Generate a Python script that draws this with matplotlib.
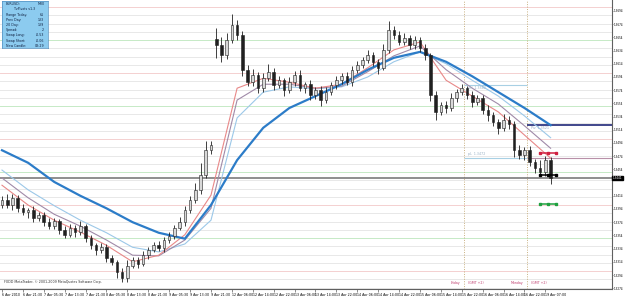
import numpy as np
import matplotlib.pyplot as plt

# EURUSD, 2h candles (price)
closes = [
    1.3408, 1.3400, 1.3411, 1.3395, 1.3389, 1.3392, 1.3380, 1.3385, 1.3374, 1.3368,
    1.3376, 1.3362, 1.3355, 1.3365, 1.3359, 1.3368, 1.3350, 1.3339, 1.3332, 1.3336,
    1.3320, 1.3314, 1.3298, 1.3289, 1.3308, 1.3317, 1.3311, 1.3324, 1.3332, 1.3339,
    1.3335, 1.3347, 1.3353, 1.3365, 1.3374, 1.3392, 1.3408, 1.3423, 1.3445, 1.3483,
    1.3491, 1.3642, 1.3627, 1.3650, 1.3673, 1.3658, 1.3605, 1.3586, 1.3597, 1.3577,
    1.3592, 1.3602, 1.3582, 1.3589, 1.3574, 1.3586, 1.3597, 1.3577, 1.3583, 1.3567,
    1.3574, 1.3559, 1.3571, 1.3582, 1.3589, 1.3595, 1.3586, 1.3605, 1.3612, 1.3620,
    1.3627, 1.3617, 1.3608, 1.3635, 1.3665, 1.3658, 1.3647, 1.3653, 1.3642, 1.3650,
    1.3638, 1.3627, 1.3567, 1.3541, 1.3552, 1.3547, 1.3562, 1.3571, 1.3577, 1.3567,
    1.3556, 1.3562, 1.3544, 1.3536, 1.3526, 1.3517, 1.3529, 1.3523, 1.3483, 1.3476,
    1.3483, 1.3465, 1.3456, 1.3450, 1.3468, 1.3441]
first_open = 1.3400
monday_open = 1.3652   # 12 Apr gap
# wick lengths in pips
wick_up = [
    6, 9, 5, 4, 7, 3, 6, 5, 4, 6,
    5, 3, 6, 7, 4, 8, 3, 5, 4, 6,
    5, 4, 3, 6, 9, 4, 5, 6, 4, 5,
    7, 4, 6, 5, 8, 6, 5, 10, 18, 14,
    6, 16, 12, 10, 16, 8, 6, 7, 9, 5,
    8, 11, 5, 6, 4, 8, 6, 7, 4, 6,
    5, 6, 8, 4, 6, 5, 7, 5, 6, 5,
    8, 5, 4, 9, 14, 6, 5, 7, 4, 6,
    5, 6, 3, 5, 4, 6, 8, 5, 7, 4,
    6, 5, 4, 7, 5, 4, 9, 6, 5, 8,
    5, 6, 4, 12, 7, 5]
wick_dn = [
    5, 4, 7, 6, 4, 8, 5, 4, 6, 5,
    4, 6, 5, 3, 7, 4, 6, 5, 8, 4,
    6, 5, 8, 5, 5, 4, 6, 4, 5, 3,
    5, 6, 4, 5, 3, 6, 4, 5, 6, 4,
    5, 20, 10, 6, 4, 8, 9, 6, 5, 7,
    6, 4, 7, 5, 9, 4, 6, 5, 7, 8,
    6, 9, 5, 4, 6, 5, 4, 6, 5, 4,
    5, 6, 9, 4, 5, 6, 5, 4, 6, 5,
    6, 8, 10, 12, 5, 7, 4, 6, 5, 6,
    7, 5, 6, 8, 6, 9, 5, 8, 10, 6,
    8, 6, 7, 5, 6, 9]

# moving averages, sampled every 5 candles
ma_idx = list(range(0, 106, 5))
ma_slow = [1.3483, 1.3464, 1.3435, 1.3414, 1.3395, 1.3374, 1.3358, 1.3349, 1.3400, 1.3468, 1.3517,
           1.3547, 1.3565, 1.3583, 1.3605, 1.3623, 1.3632, 1.3617, 1.3595, 1.3571, 1.3547, 1.3521]
ma_fast = [1.3430, 1.3400, 1.3377, 1.3359, 1.3339, 1.3314, 1.3324, 1.3355, 1.3415, 1.3577, 1.3592,
           1.3586, 1.3577, 1.3583, 1.3608, 1.3635, 1.3647, 1.3589, 1.3565, 1.3541, 1.3506, 1.3471]
ma_mid = [1.3441, 1.3411, 1.3386, 1.3368, 1.3347, 1.3324, 1.3323, 1.3347, 1.3395, 1.3559, 1.3583,
          1.3583, 1.3577, 1.3580, 1.3602, 1.3626, 1.3641, 1.3605, 1.3577, 1.3553, 1.3520, 1.3486]
ma_light = [1.3453, 1.3423, 1.3399, 1.3377, 1.3358, 1.3336, 1.3329, 1.3341, 1.3377, 1.3532, 1.3571,
            1.3579, 1.3576, 1.3579, 1.3594, 1.3617, 1.3632, 1.3614, 1.3589, 1.3565, 1.3535, 1.3502]

time_labels = ["6 Apr 2010", "6 Apr 21:30", "7 Apr 05:30", "7 Apr 13:30", "7 Apr 21:30",
               "8 Apr 05:30", "8 Apr 13:30", "8 Apr 21:30", "9 Apr 05:30", "9 Apr 13:30",
               "9 Apr 21:30", "12 Apr 06:00", "12 Apr 14:00", "12 Apr 22:00", "13 Apr 06:00",
               "13 Apr 14:00", "13 Apr 22:00", "14 Apr 06:00", "14 Apr 14:00", "14 Apr 22:00",
               "15 Apr 06:00", "15 Apr 14:00", "15 Apr 22:00", "16 Apr 06:00", "16 Apr 14:00",
               "16 Apr 22:00", "19 Apr 07:00"]
price_ticks = [1.3694 - 0.0020 * k for k in range(22) if k != 13]

prev_high = 1.3582
prev_low = 1.3472
pivot = 1.3521
targets = [1.3479, 1.3445, 1.3402]
target_colors = ['#d02040', 'black', '#20a040']

info_keys = ["EURUSD:", "TzPivots v1.3", "Range Today:", "Prev Day:", "20 Day:", "Spread:",
             "Swap Long:", "Swap Short:", "New Candle:"]
info_vals = ["M30", "", "61", "133", "139", "2", "-0.53", "-0.06", "03:29"]

FS = 2.3

fig = plt.figure(figsize=(6.25, 2.96), dpi=100)
ax = fig.add_axes([0, 7 / 296, 612 / 625, 289 / 296])
ax.set_xlim(-0.38, 116.75)
ax.set_ylim(1.32728, 1.37106)

# level lines every 12.5 pips, round 50 pip levels coloured
for k in range(-4, 40):
    lv = 1.3700 - k * 0.00125
    if k % 8 == 0:
        col = '#f4d0d0'
    elif k % 4 == 0:
        col = '#c6eac6'
    else:
        col = '#e8e8e8'
    ax.axhline(lv, color=col, lw=0.7, zorder=0)

n = len(closes)
x = np.arange(n)
opens = [first_open] + closes[:-1]
opens[41] = monday_open
o = np.array(opens)
c = np.array(closes)
hi = np.maximum(o, c) + np.array(wick_up) * 0.0001
lo = np.minimum(o, c) - np.array(wick_dn) * 0.0001

# moving averages
ax.plot(ma_idx, ma_light, color='#9cc8e8', lw=0.8, zorder=2)
ax.plot(ma_idx, ma_mid, color='#a08aa8', lw=0.8, zorder=2)
ax.plot(ma_idx, ma_fast, color='#e88888', lw=0.8, zorder=2)
ax.plot(ma_idx, ma_slow, color='#2c7cc8', lw=1.6, zorder=2)

# candles
ax.vlines(x, lo, hi, color='#202020', lw=0.6, zorder=3)
up = c >= o
body_h = np.maximum(np.abs(c - o), 0.00008)
ax.bar(x[up], body_h[up], bottom=np.minimum(o, c)[up], width=0.5,
       color='#d8d8d8', edgecolor='#202020', lw=0.4, zorder=4)
ax.bar(x[~up], body_h[~up], bottom=np.minimum(o, c)[~up], width=0.5,
       color='#202020', edgecolor='#202020', lw=0.4, zorder=4)

# day separators
for d, name in [(88.5, 'Friday'), (100.5, 'Monday')]:
    ax.axvline(d, color='#c8b080', lw=0.7, ls=(0, (1, 1.5)), zorder=1)
    ax.text(d - 0.7, 1.3282, name, color='#c04070', fontsize=FS, ha='right', va='center')
    ax.text(d + 0.7, 1.3282, '(GMT +2)', color='#c04070', fontsize=FS, ha='left', va='center')

# previous day high / low and pivot
ax.hlines([prev_high, prev_low], 88.5, 100.5, color='#a8d0e4', lw=0.8, zorder=1)
ax.text(89.2, prev_high - 0.0002, 'pH  %.4f' % prev_high, color='#98b0c4', fontsize=FS, va='top')
ax.text(89.2, prev_low + 0.0002, 'pL  %.4f' % prev_low, color='#98b0c4', fontsize=FS, va='bottom')
ax.hlines(prev_low, 100.5, 117, color='#b890a8', lw=0.8, zorder=1)
ax.hlines(pivot, 100.5, 117, color='#202878', lw=1.2, zorder=1)
ax.text(101.2, pivot - 0.0002, 'Piv  %.4f' % pivot, color='#98a8c4', fontsize=FS, va='top')

# current price line
ax.axhline(closes[-1], color='#707070', lw=1.1, zorder=1)

# target markers
for lv, tc in zip(targets, target_colors):
    ax.plot([102.9, 104.5, 106.0], [lv] * 3, color=tc, lw=1.1, marker='s', ms=1.6, zorder=5)

# axes look
for s in ['top', 'left']:
    ax.spines[s].set_visible(False)
ax.spines['right'].set_color('#606060')
ax.spines['bottom'].set_color('#606060')
ax.spines['right'].set_linewidth(0.8)
ax.spines['bottom'].set_linewidth(0.8)
ax.set_xticks(np.arange(len(time_labels)) * 4)
ax.set_xticklabels(time_labels, fontsize=FS, ha='left')
ax.tick_params(axis='x', length=2, width=0.5, pad=1, color='#606060')
ax.yaxis.tick_right()
ax.set_yticks(price_ticks)
ax.set_yticklabels(['%.4f' % p for p in price_ticks], fontsize=2.0)
ax.tick_params(axis='y', length=1, width=0.5, pad=0.3, color='#606060')
ax.text(1.001, closes[-1], '%.4f' % closes[-1], transform=ax.get_yaxis_transform(),
        fontsize=2.0, color='white', va='center', ha='left',
        bbox=dict(boxstyle='square,pad=0.12', fc='black', ec='black'))

ax.text(0.4, 1.3284, 'FXDD MetaTrader, \u00a9 2001-2009 MetaQuotes Software Corp.',
        fontsize=FS, color='#303030', va='center')

# info box
ib = fig.add_axes([2 / 625, 1 - 48 / 296, 46 / 625, 47 / 296])
ib.set_facecolor('#8ccbef')
ib.set_xticks([])
ib.set_yticks([])
for s in ib.spines.values():
    s.set_color('#5090c0')
    s.set_linewidth(0.5)
for i, (k, v) in enumerate(zip(info_keys, info_vals)):
    yy = 1 - (i + 0.6) / len(info_keys)
    if i == 1:
        ib.text(0.5, yy, k, fontsize=FS, color='#102040', ha='center', va='center')
    else:
        ib.text(0.08, yy, k, fontsize=FS, color='#102040', ha='left', va='center')
        ib.text(0.92, yy, v, fontsize=FS, color='#102040', ha='right', va='center')

fig.savefig('out.png', dpi=100)
